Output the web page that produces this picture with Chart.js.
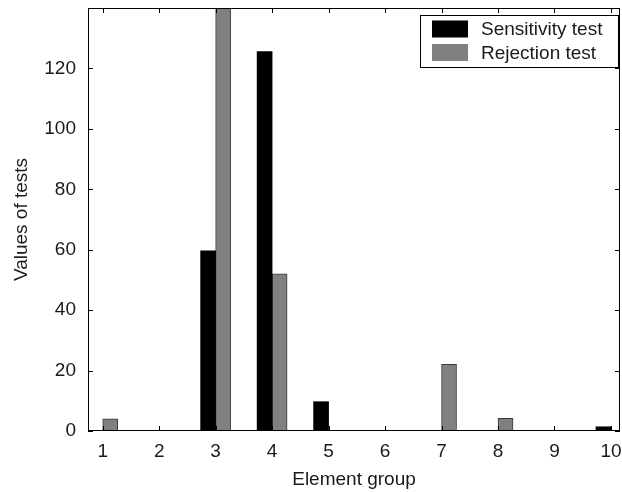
<!DOCTYPE html>
<html lang="en">
<head>
    <meta charset="UTF-8">
    <title>Element group tests</title>
    <script src="https://cdn.jsdelivr.net/npm/chart.js"></script>
    <style>
        body {
            margin: 0;
            background: white;
        }
        .wrap {
            width: 622px;
            height: 492px;
        }
    </style>
</head>
<body>
    <div class="wrap">
        <canvas id="chart" width="622" height="492"></canvas>
    </div>
    <script>
        // data
        const groups = [1, 2, 3, 4, 5, 6, 7, 8, 9, 10];
        const sensitivity = [0, 0, 59.6, 125.6, 9.7, 0, 0, 0, 0, 1.4];
        const rejection = [4, 0, 145, 52, 0, 0, 22.1, 4.2, 0, 0];
        const yTicks = [0, 20, 40, 60, 80, 100, 120];

        const FONT = "'Liberation Sans', Arial, sans-serif";
        const TEXT = '#1a1a1a';

        // box round the plot with inward ticks on every side
        const frame = {
            id: 'frame',
            afterDatasetsDraw(chart) {
                const { ctx, chartArea: a, scales } = chart;
                const len = 5;
                ctx.save();
                ctx.strokeStyle = '#000';
                ctx.lineWidth = 1;
                ctx.strokeRect(a.left + 0.5, a.top + 0.5, a.right - a.left - 1, a.bottom - a.top - 1);
                ctx.beginPath();
                scales.x.ticks.forEach(t => {
                    const x = Math.round(scales.x.getPixelForValue(t.value)) + 0.5;
                    ctx.moveTo(x, a.bottom); ctx.lineTo(x, a.bottom - len);
                    ctx.moveTo(x, a.top); ctx.lineTo(x, a.top + len);
                });
                scales.y.ticks.forEach(t => {
                    const y = Math.round(scales.y.getPixelForValue(t.value)) + 0.5;
                    ctx.moveTo(a.left, y); ctx.lineTo(a.left + len, y);
                    ctx.moveTo(a.right, y); ctx.lineTo(a.right - len, y);
                });
                ctx.stroke();
                ctx.restore();
            }
        };

        // legend box in the top right corner
        const boxLegend = {
            id: 'boxLegend',
            afterDraw(chart) {
                const { ctx, chartArea: a } = chart;
                const w = 198, h = 52;
                const x0 = a.right - w - 2, y0 = a.top + 7;
                ctx.save();
                ctx.fillStyle = '#fff';
                ctx.fillRect(x0, y0, w, h);
                ctx.strokeStyle = '#000';
                ctx.lineWidth = 1;
                ctx.strokeRect(x0 + 0.5, y0 + 0.5, w, h);
                ctx.font = '19px ' + FONT;
                ctx.textBaseline = 'middle';
                chart.data.datasets.forEach((ds, i) => {
                    const yc = y0 + 14 + i * 23.5;
                    ctx.fillStyle = ds.backgroundColor;
                    ctx.fillRect(x0 + 12, yc - 8.5, 36, 17);
                    ctx.fillStyle = TEXT;
                    ctx.fillText(ds.label, x0 + 61, yc + 1);
                });
                ctx.restore();
            }
        };

        new Chart(document.getElementById('chart'), {
            type: 'bar',
            data: {
                datasets: [{
                    label: 'Sensitivity test',
                    data: groups.map((g, i) => ({ x: g, y: sensitivity[i] })),
                    backgroundColor: '#000000',
                    borderWidth: 0,
                    barThickness: 15
                }, {
                    label: 'Rejection test',
                    data: groups.map((g, i) => ({ x: g, y: rejection[i] })),
                    backgroundColor: '#808080',
                    borderColor: '#3a3a3a',
                    borderWidth: 1,
                    barThickness: 15
                }]
            },
            options: {
                responsive: false,
                animation: false,
                layout: { padding: { top: 8, right: 2, left: 0, bottom: 0 } },
                plugins: {
                    legend: { display: false },
                    tooltip: { enabled: false }
                },
                scales: {
                    x: {
                        type: 'linear',
                        offset: false,
                        min: 0.74,
                        max: 10.16,
                        afterBuildTicks: s => { s.ticks = groups.map(v => ({ value: v })); },
                        afterFit: s => {
                            s.height = 61;
                            s.paddingLeft = 0;
                            s.paddingRight = 0;
                        },
                        grid: { display: false, drawTicks: false },
                        border: { display: false },
                        ticks: {
                            padding: 9,
                            color: TEXT,
                            font: { family: FONT, size: 19 }
                        },
                        title: {
                            display: true,
                            text: 'Element group',
                            color: TEXT,
                            font: { family: FONT, size: 19 },
                            padding: { top: 0, bottom: 1 }
                        }
                    },
                    y: {
                        min: 0,
                        max: 140,
                        afterBuildTicks: s => { s.ticks = yTicks.map(v => ({ value: v })); },
                        afterFit: s => {
                            s.width = 88;
                            s.paddingTop = 0;
                            s.paddingBottom = 0;
                        },
                        grid: { display: false, drawTicks: false },
                        border: { display: false },
                        ticks: {
                            padding: 12,
                            color: TEXT,
                            font: { family: FONT, size: 19 }
                        },
                        title: {
                            display: true,
                            text: 'Values of tests',
                            color: TEXT,
                            font: { family: FONT, size: 19 },
                            padding: { top: 10, bottom: 2 }
                        }
                    }
                }
            },
            plugins: [frame, boxLegend]
        });
    </script>
</body>
</html>
